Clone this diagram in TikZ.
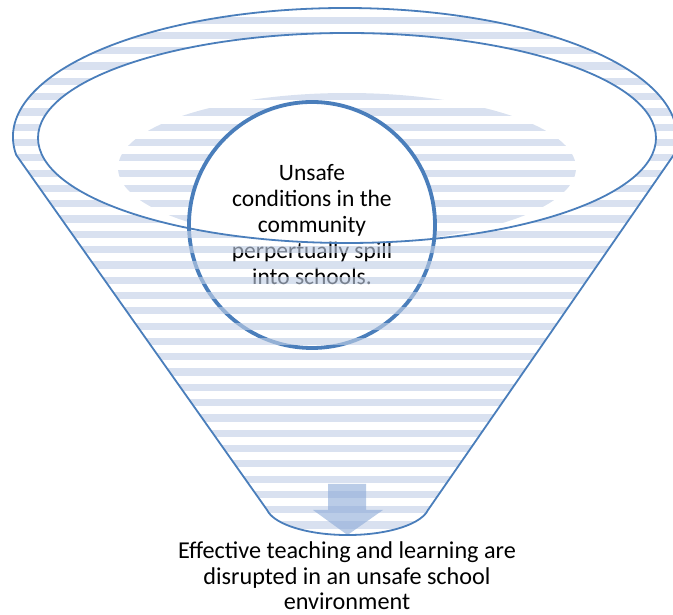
\documentclass[tikz,border=0pt]{standalone}
\usepackage{fontspec}
\setmainfont{Carlito}
\definecolor{lineblue}{RGB}{74,126,187}
\definecolor{stripeblue}{RGB}{193,207,230}
\definecolor{arrowblue}{RGB}{140,170,215}
\begin{document}
\begin{tikzpicture}[x=1pt,y=1pt,
  stripes/.style={fill=stripeblue, fill opacity=0.62},
  outline/.style={draw=lineblue, line width=1.8pt},
  txt/.style={align=center, text=black, inner sep=0pt}]
\useasboundingbox (0,0) rectangle (673,615);

% striped inner ellipse (inside the funnel mouth)
\begin{scope}
  \clip (347,477) ellipse [x radius=309, y radius=105];
  \clip (347,447) ellipse [x radius=229, y radius=75];
  \foreach \k in {-17,...,23} {
    \pgfmathsetmacro\yc{615-(265+15.3*\k)}
    \fill[stripes] (0,\yc-3.6) rectangle (673,\yc+3.6);
  }
\end{scope}

% circle with text
\node[circle, draw=lineblue, line width=3.8pt, fill=white, minimum size=246pt, txt,
  font=\fontsize{23.5}{26}\selectfont]
  (cond) at (312,390) {Unsafe\\conditions in the\\community\\perpertually spill\\into schools.};

% funnel body stripes (over the circle)
\begin{scope}[even odd rule]
  \clip (16.2,460.05) arc[start angle=188, end angle=-8, x radius=332, y radius=129]
     -- (428,105) arc[start angle=-10, end angle=-170, x radius=81.7, y radius=30.3] -- cycle
     (347,477) ellipse [x radius=309, y radius=105];
  \foreach \k in {-17,...,23} {
    \pgfmathsetmacro\yc{615-(265+15.3*\k)}
    \fill[stripes] (0,\yc-3.6) rectangle (673,\yc+3.6);
  }
\end{scope}

% down arrow
\fill[arrowblue, fill opacity=0.6] (328,131) -- (366,131) -- (366,105) -- (383,105)
  -- (347.5,80) -- (313,105) -- (328,105) -- cycle;

% outlines
\draw[outline] (16.2,460.05) arc[start angle=188, end angle=-8, x radius=332, y radius=129]
  -- (428,105) arc[start angle=-10, end angle=-170, x radius=81.7, y radius=30.3] -- cycle;
\draw[outline] (347,477) ellipse [x radius=309, y radius=105];

% bottom text
\node[txt, font=\fontsize{24.2}{25.5}\selectfont] (effect) at (347,39)
  {Effective teaching and learning are\\disrupted in an unsafe school\\environment};
\end{tikzpicture}
\end{document}
